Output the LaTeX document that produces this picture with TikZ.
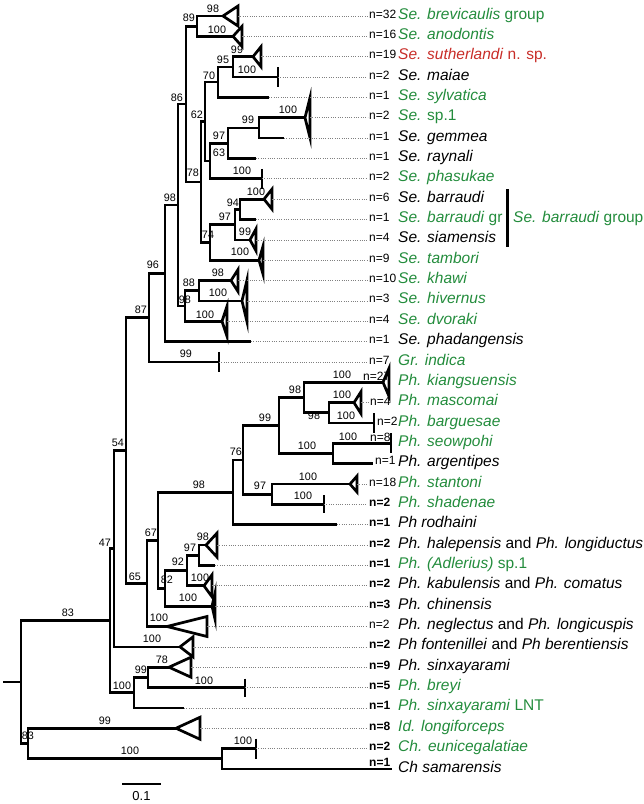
\documentclass[tikz,border=0pt]{standalone}
\usepackage{fontspec}
\setmainfont{Liberation Sans}
\definecolor{spgreen}{RGB}{35,140,60}
\definecolor{spred}{RGB}{200,45,40}
\tikzset{
  br/.style={line width=2.7pt},
  dots/.style={line width=0.7pt, gray, dash pattern=on 0.7pt off 1.6pt, shorten >=1.5pt},
  bs/.style={inner sep=0pt, font=\fontsize{10.8}{12}\selectfont},
  nlab/.style={inner sep=0pt, anchor=base west, font=\fontsize{12}{13}\selectfont},
  bnlab/.style={nlab, font=\fontsize{12}{13}\selectfont\bfseries},
  tax/.style={inner sep=0pt, anchor=base west, font=\fontsize{15.5}{17}\selectfont},
}

\begin{document}
\begin{tikzpicture}[x=1pt, y=-1pt]
\useasboundingbox (0,0) rectangle (644,804);

% internal nodes
\coordinate (stub) at (3,682.1);
\coordinate (root) at (21,682.1);
\coordinate (nA) at (110,620.7);
\coordinate (nB) at (114,548.7);
\coordinate (n54) at (126,450.5);
\coordinate (n87) at (149,317.6);
\coordinate (n96) at (165,273.3);
\coordinate (n98a) at (178,205);
\coordinate (n86) at (186,104.1);
\coordinate (n89) at (197,26.2);
\coordinate (n78) at (201,182);
\coordinate (n62) at (205,121.6);
\coordinate (n70) at (218,82.1);
\coordinate (n95) at (233,66.9);
\coordinate (nX) at (210,161);
\coordinate (n97) at (228,143.2);
\coordinate (n99) at (259,127.9);
\coordinate (n74) at (210,242.4);
\coordinate (n97b) at (235,224.6);
\coordinate (n94) at (240,209.3);
\coordinate (n98b) at (185,306);
\coordinate (n88) at (199,290.7);
\coordinate (n65) at (147,583.4);
\coordinate (n67) at (158,540.3);
\coordinate (n98) at (233,492.3);
\coordinate (n76) at (243,459.9);
\coordinate (n99ph) at (279,425.6);
\coordinate (n98ph) at (304,397.6);
\coordinate (n98ph2) at (329,412.8);
\coordinate (n100ph) at (333,453.5);
\coordinate (n97ph) at (272,494.2);
\coordinate (n82) at (165,588.3);
\coordinate (n92) at (187,570.5);
\coordinate (n97c) at (199,555.3);
\coordinate (n100s) at (134,692.6);
\coordinate (n99s) at (148,677.4);
\coordinate (n83b) at (28,743.5);
\coordinate (n100c) at (222,758.8);

% tips
\coordinate (brevicaulis) at (223,16);
\coordinate (anodontis) at (233,36.35);
\coordinate (sutherlandi) at (253,56.7);
\coordinate (maiae) at (278,77.05);
\coordinate (sylvatica) at (269,97.4);
\coordinate (sp1) at (305,117.75);
\coordinate (gemmea) at (284,138.1);
\coordinate (raynali) at (256,158.45);
\coordinate (phasukae) at (262,178.8);
\coordinate (barraudi) at (264,199.15);
\coordinate (barraudigr) at (256,219.5);
\coordinate (siamensis) at (250,239.85);
\coordinate (tambori) at (259,260.2);
\coordinate (khawi) at (231,280.55);
\coordinate (hivernus) at (242,300.9);
\coordinate (dvoraki) at (222,321.25);
\coordinate (phadangensis) at (251,341.6);
\coordinate (indica) at (219,361.95);
\coordinate (kiangsuensis) at (383,382.3);
\coordinate (mascomai) at (354,402.65);
\coordinate (barguesae) at (374,423);
\coordinate (seowpohi) at (391,443.35);
\coordinate (argentipes) at (373,463.7);
\coordinate (stantoni) at (350,484.05);
\coordinate (shadenae) at (324,504.4);
\coordinate (rodhaini) at (337,524.75);
\coordinate (halepensis) at (206,545.1);
\coordinate (adlerius) at (215,565.45);
\coordinate (kabulensis) at (204,585.8);
\coordinate (chinensis) at (212,606.15);
\coordinate (neglectus) at (167,626.5);
\coordinate (fontenillei) at (180,646.85);
\coordinate (sinxayarami) at (169,667.2);
\coordinate (breyi) at (245,687.55);
\coordinate (lnt) at (184,707.9);
\coordinate (longiforceps) at (176,728.25);
\coordinate (eunicegalatiae) at (256,748.6);
\coordinate (samarensis) at (392,768.95);

% backbone
\draw[br] (stub) -- (root);
\draw[br] (root) |- (nA);
\draw[br] (root) |- (n83b);
\draw[br] (nA) |- (nB);
\draw[br] (nA) |- (n100s);
\draw[br] (nB) |- (n54);
\draw[br] (nB) |- (fontenillei);
\draw[br] (n54) |- (n87);
\draw[br] (n54) |- (n65);
% Se. clade
\draw[br] (n87) |- (n96);
\draw[br] (n87) |- (indica);
\draw[br] (n96) |- (n98a);
\draw[br] (n96) |- (phadangensis);
\draw[br] (n98a) |- (n86);
\draw[br] (n98a) |- (n98b);
\draw[br] (n86) |- (n89);
\draw[br] (n86) |- (n78);
\draw[br] (n89) |- (brevicaulis);
\draw[br] (n89) |- (anodontis);
\draw[br] (n78) |- (n62);
\draw[br] (n78) |- (n74);
\draw[br] (n62) |- (n70);
\draw[br] (n62) |- (nX);
\draw[br] (n70) |- (n95);
\draw[br] (n70) |- (sylvatica);
\draw[br] (n95) |- (sutherlandi);
\draw[br] (n95) |- (maiae);
\draw[br] (nX) |- (n97);
\draw[br] (nX) |- (phasukae);
\draw[br] (n97) |- (n99);
\draw[br] (n97) |- (raynali);
\draw[br] (n99) |- (sp1);
\draw[br] (n99) |- (gemmea);
\draw[br] (n74) |- (n97b);
\draw[br] (n74) |- (tambori);
\draw[br] (n97b) |- (n94);
\draw[br] (n97b) |- (siamensis);
\draw[br] (n94) |- (barraudi);
\draw[br] (n94) |- (barraudigr);
\draw[br] (n98b) |- (n88);
\draw[br] (n98b) |- (dvoraki);
\draw[br] (n88) |- (khawi);
\draw[br] (n88) |- (hivernus);
% Ph. clade
\draw[br] (n65) |- (n67);
\draw[br] (n65) |- (neglectus);
\draw[br] (n67) |- (n98);
\draw[br] (n67) |- (n82);
\draw[br] (n98) |- (n76);
\draw[br] (n98) |- (rodhaini);
\draw[br] (n76) |- (n99ph);
\draw[br] (n76) |- (n97ph);
\draw[br] (n99ph) |- (n98ph);
\draw[br] (n99ph) |- (n100ph);
\draw[br] (n98ph) |- (kiangsuensis);
\draw[br] (n98ph) |- (n98ph2);
\draw[br] (n98ph2) |- (mascomai);
\draw[br] (n98ph2) |- (barguesae);
\draw[br] (n100ph) |- (seowpohi);
\draw[br] (n100ph) |- (argentipes);
\draw[br] (n97ph) |- (stantoni);
\draw[br] (n97ph) |- (shadenae);
\draw[br] (n82) |- (n92);
\draw[br] (n82) |- (chinensis);
\draw[br] (n92) |- (n97c);
\draw[br] (n92) |- (kabulensis);
\draw[br] (n97c) |- (halepensis);
\draw[br] (n97c) |- (adlerius);
\draw[br] (n100s) |- (n99s);
\draw[br] (n100s) |- (lnt);
\draw[br] (n99s) |- (sinxayarami);
\draw[br] (n99s) |- (breyi);
% outgroups
\draw[br] (n83b) |- (longiforceps);
\draw[br] (n83b) |- (n100c);
\draw[br] (n100c) |- (eunicegalatiae);
\draw[br] (n100c) |- (samarensis);

% collapsed clades
\draw[br] (brevicaulis) -- ++(15,-10) -- ++(0,20) -- cycle;
\draw[br] (anodontis) -- ++(9,-10) -- ++(0,20) -- cycle;
\draw[br] (sutherlandi) -- ++(8,-10) -- ++(0,20) -- cycle;
\draw[br] (sp1) -- ++(5,-20) -- ++(0,40) -- cycle;
\draw[br] (barraudi) -- ++(8,-10) -- ++(0,20) -- cycle;
\draw[br] (siamensis) -- ++(6,-11) -- ++(0,22) -- cycle;
\draw[br] (tambori) -- ++(4,-14) -- ++(0,28) -- cycle;
\draw[br] (khawi) -- ++(7,-11) -- ++(0,22) -- cycle;
\draw[br] (hivernus) -- ++(5,-21) -- ++(0,42) -- cycle;
\draw[br] (dvoraki) -- ++(5,-15) -- ++(0,30) -- cycle;
\draw[br] (kiangsuensis) -- ++(6,-14) -- ++(0,28) -- cycle;
\draw[br] (mascomai) -- ++(7,-11) -- ++(0,22) -- cycle;
\draw[br] (stantoni) -- ++(7,-8) -- ++(0,16) -- cycle;
\draw[br] (halepensis) -- ++(11,-12) -- ++(0,24) -- cycle;
\draw[br] (kabulensis) -- ++(8,-11) -- ++(0,22) -- cycle;
\draw[br] (chinensis) -- ++(3,-13) -- ++(0,26) -- cycle;
\draw[br] (neglectus) -- ++(40,-10) -- ++(0,20) -- cycle;
\draw[br] (fontenillei) -- ++(13,-10) -- ++(0,20) -- cycle;
\draw[br] (sinxayarami) -- ++(22,-10) -- ++(0,20) -- cycle;
\draw[br] (longiforceps) -- ++(24,-11) -- ++(0,22) -- cycle;
\draw[br] (maiae) ++(0,-10) -- ++(0,20);
\draw[br] (phasukae) ++(0,-10) -- ++(0,20);
\draw[br] (indica) ++(0,-10) -- ++(0,20);
\draw[br] (barguesae) ++(0,-10) -- ++(0,20);
\draw[br] (seowpohi) ++(0,-10) -- ++(0,20);
\draw[br] (shadenae) ++(0,-9) -- ++(0,18);
\draw[br] (breyi) ++(0,-9) -- ++(0,18);
\draw[br] (eunicegalatiae) ++(0,-10) -- ++(0,20);

% bootstrap values
\node[bs] (b-n89a) at (213,9) {98};
\node[bs] (b-n89b) at (217,30) {100};
\node[bs] (b-n89) at (189,18) {89};
\node[bs] (b-n95a) at (237,50) {99};
\node[bs] (b-n95b) at (247,70) {100};
\node[bs] (b-n95) at (223,60) {95};
\node[bs] (b-n70) at (209,76) {70};
\node[bs] (b-n62) at (197,115) {62};
\node[bs] (b-n99a) at (288,110) {100};
\node[bs] (b-n99) at (248,120) {99};
\node[bs] (b-n97) at (219,136) {97};
\node[bs] (b-n97b2) at (219,153) {63};
\node[bs] (b-phas) at (242,171) {100};
\node[bs] (b-n78) at (193,173) {78};
\node[bs] (b-n86) at (177,98) {86};
\node[bs] (b-barr) at (256,192) {100};
\node[bs] (b-n94) at (233,203) {94};
\node[bs] (b-n97b) at (225,217) {97};
\node[bs] (b-siam) at (245,232) {99};
\node[bs] (b-n74) at (208,235) {74};
\node[bs] (b-tamb) at (240,252) {100};
\node[bs] (b-khaw) at (218,273) {98};
\node[bs] (b-n88) at (189,283) {88};
\node[bs] (b-hive) at (218,293) {100};
\node[bs] (b-n98b) at (185,300) {98};
\node[bs] (b-dvor) at (205,315) {100};
\node[bs] (b-n98a) at (170,198) {98};
\node[bs] (b-n96) at (153,265) {96};
\node[bs] (b-n87) at (141,310) {87};
\node[bs] (b-indi) at (186,354) {99};
\node[bs] (b-n54) at (118,443) {54};
\node[bs] (b-kian) at (342,375) {100};
\node[bs] (b-n98ph) at (295,390) {98};
\node[bs] (b-masc) at (342,395) {100};
\node[bs] (b-n98ph2) at (314,416) {98};
\node[bs] (b-barg) at (346,416) {100};
\node[bs] (b-n99ph) at (265,418) {99};
\node[bs] (b-seow) at (348,437) {100};
\node[bs] (b-n100ph) at (307,446) {100};
\node[bs] (b-n76) at (236,452) {76};
\node[bs] (b-stan) at (308,477) {100};
\node[bs] (b-n97ph) at (260,486) {97};
\node[bs] (b-n98) at (199,485) {98};
\node[bs] (b-shad) at (303,496) {100};
\node[bs] (b-n67) at (151,533) {67};
\node[bs] (b-hale) at (203,537) {98};
\node[bs] (b-n97c) at (190,548) {97};
\node[bs] (b-n92) at (178,562) {92};
\node[bs] (b-n65) at (135,577) {65};
\node[bs] (b-n82) at (167,580) {82};
\node[bs] (b-kabu) at (200,578) {100};
\node[bs] (b-chin) at (188,598) {100};
\node[bs] (b-nA) at (68,613) {83};
\node[bs] (b-negl) at (159,618) {100};
\node[bs] (b-nB) at (105,543) {47};
\node[bs] (b-font) at (152,639) {100};
\node[bs] (b-sinx) at (162,660) {78};
\node[bs] (b-n99s) at (141,670) {99};
\node[bs] (b-brey) at (204,681) {100};
\node[bs] (b-n100s) at (122,686) {100};
\node[bs] (b-long) at (105,721) {99};
\node[bs] (b-n83b) at (28,736) {83};
\node[bs] (b-n100c) at (130,751) {100};
\node[bs] (b-euni) at (243,741) {100};

% sample sizes
\node[nlab] (brevicaulis-n) at (369,18) {n=32};
\node[nlab] (anodontis-n) at (369,38.4) {n=16};
\node[nlab] (sutherlandi-n) at (369,58.7) {n=19};
\node[nlab] (maiae-n) at (369,79) {n=2};
\node[nlab] (sylvatica-n) at (369,99.4) {n=1};
\node[nlab] (sp1-n) at (369,119.8) {n=2};
\node[nlab] (gemmea-n) at (369,140.1) {n=1};
\node[nlab] (raynali-n) at (369,160.5) {n=1};
\node[nlab] (phasukae-n) at (369,180.8) {n=2};
\node[nlab] (barraudi-n) at (369,201.2) {n=6};
\node[nlab] (barraudigr-n) at (369,221.5) {n=1};
\node[nlab] (siamensis-n) at (369,241.9) {n=4};
\node[nlab] (tambori-n) at (369,262.2) {n=9};
\node[nlab] (khawi-n) at (369,282.6) {n=10};
\node[nlab] (hivernus-n) at (369,302.9) {n=3};
\node[nlab] (dvoraki-n) at (369,323.3) {n=4};
\node[nlab] (phadangensis-n) at (369,343.6) {n=1};
\node[nlab] (indica-n) at (369,364) {n=7};
\node[nlab] (kiangsuensis-n) at (363,380) {n=27};
\node[nlab] (mascomai-n) at (370,405) {n=4};
\node[nlab] (barguesae-n) at (377,425) {n=2};
\node[nlab] (seowpohi-n) at (370,441) {n=8};
\node[nlab] (argentipes-n) at (375,464) {n=1};
\node[nlab] (stantoni-n) at (369,486.1) {n=18};
\node[bnlab] (shadenae-n) at (369,506.4) {n=2};
\node[bnlab] (rodhaini-n) at (369,526.8) {n=1};
\node[bnlab] (halepensis-n) at (369,547.1) {n=2};
\node[bnlab] (adlerius-n) at (369,567.5) {n=1};
\node[bnlab] (kabulensis-n) at (369,587.8) {n=2};
\node[bnlab] (chinensis-n) at (369,608.2) {n=3};
\node[nlab] (neglectus-n) at (369,628.5) {n=2};
\node[bnlab] (fontenillei-n) at (369,648.9) {n=2};
\node[bnlab] (sinxayarami-n) at (369,669.2) {n=9};
\node[bnlab] (breyi-n) at (369,689.6) {n=5};
\node[bnlab] (lnt-n) at (369,709.9) {n=1};
\node[bnlab] (longiforceps-n) at (369,730.3) {n=8};
\node[bnlab] (eunicegalatiae-n) at (369,750.6) {n=2};
\node[bnlab] (samarensis-n) at (369,766) {n=1};

% dotted leaders
\draw[dots] ([xshift=15pt]brevicaulis) -- (brevicaulis -| brevicaulis-n.west);
\draw[dots] ([xshift=9pt]anodontis) -- (anodontis -| anodontis-n.west);
\draw[dots] ([xshift=8pt]sutherlandi) -- (sutherlandi -| sutherlandi-n.west);
\draw[dots] (maiae) -- (maiae -| maiae-n.west);
\draw[dots] (sylvatica) -- (sylvatica -| sylvatica-n.west);
\draw[dots] ([xshift=5pt]sp1) -- (sp1 -| sp1-n.west);
\draw[dots] (gemmea) -- (gemmea -| gemmea-n.west);
\draw[dots] (raynali) -- (raynali -| raynali-n.west);
\draw[dots] (phasukae) -- (phasukae -| phasukae-n.west);
\draw[dots] ([xshift=8pt]barraudi) -- (barraudi -| barraudi-n.west);
\draw[dots] (barraudigr) -- (barraudigr -| barraudigr-n.west);
\draw[dots] ([xshift=6pt]siamensis) -- (siamensis -| siamensis-n.west);
\draw[dots] ([xshift=4pt]tambori) -- (tambori -| tambori-n.west);
\draw[dots] ([xshift=7pt]khawi) -- (khawi -| khawi-n.west);
\draw[dots] ([xshift=5pt]hivernus) -- (hivernus -| hivernus-n.west);
\draw[dots] ([xshift=5pt]dvoraki) -- (dvoraki -| dvoraki-n.west);
\draw[dots] (phadangensis) -- (phadangensis -| phadangensis-n.west);
\draw[dots] (indica) -- (indica -| indica-n.west);
\draw[dots] ([xshift=7pt]mascomai) -- (mascomai -| mascomai-n.west);
\draw[dots] ([xshift=7pt]stantoni) -- (stantoni -| stantoni-n.west);
\draw[dots] (shadenae) -- (shadenae -| shadenae-n.west);
\draw[dots] (rodhaini) -- (rodhaini -| rodhaini-n.west);
\draw[dots] ([xshift=11pt]halepensis) -- (halepensis -| halepensis-n.west);
\draw[dots] (adlerius) -- (adlerius -| adlerius-n.west);
\draw[dots] ([xshift=8pt]kabulensis) -- (kabulensis -| kabulensis-n.west);
\draw[dots] ([xshift=3pt]chinensis) -- (chinensis -| chinensis-n.west);
\draw[dots] ([xshift=40pt]neglectus) -- (neglectus -| neglectus-n.west);
\draw[dots] ([xshift=13pt]fontenillei) -- (fontenillei -| fontenillei-n.west);
\draw[dots] ([xshift=22pt]sinxayarami) -- (sinxayarami -| sinxayarami-n.west);
\draw[dots] (breyi) -- (breyi -| breyi-n.west);
\draw[dots] (lnt) -- (lnt -| lnt-n.west);
\draw[dots] ([xshift=24pt]longiforceps) -- (longiforceps -| longiforceps-n.west);
\draw[dots] (eunicegalatiae) -- (eunicegalatiae -| eunicegalatiae-n.west);

% taxa
\node[tax, spgreen] (brevicaulis-l) at (398,19) {\textit{Se. brevicaulis} group};
\node[tax, spgreen] (anodontis-l) at (398,39.4) {\textit{Se. anodontis}};
\node[tax, spred] (sutherlandi-l) at (398,59.7) {\textit{Se. sutherlandi} n. sp.};
\node[tax] (maiae-l) at (398,80) {\textit{Se. maiae}};
\node[tax, spgreen] (sylvatica-l) at (398,100.4) {\textit{Se. sylvatica}};
\node[tax, spgreen] (sp1-l) at (398,120.8) {\textit{Se.} sp.1};
\node[tax] (gemmea-l) at (398,141.1) {\textit{Se. gemmea}};
\node[tax] (raynali-l) at (398,161.5) {\textit{Se. raynali}};
\node[tax, spgreen] (phasukae-l) at (398,181.8) {\textit{Se. phasukae}};
\node[tax] (barraudi-l) at (398,202.2) {\textit{Se. barraudi}};
\node[tax, spgreen] (barraudigr-l) at (398,222.5) {\textit{Se. barraudi} gr};
\node[tax] (siamensis-l) at (398,242.9) {\textit{Se. siamensis}};
\node[tax, spgreen] (tambori-l) at (398,263.2) {\textit{Se. tambori}};
\node[tax, spgreen] (khawi-l) at (398,283.6) {\textit{Se. khawi}};
\node[tax, spgreen] (hivernus-l) at (398,303.9) {\textit{Se. hivernus}};
\node[tax, spgreen] (dvoraki-l) at (398,324.3) {\textit{Se. dvoraki}};
\node[tax] (phadangensis-l) at (398,344.6) {\textit{Se. phadangensis}};
\node[tax, spgreen] (indica-l) at (398,365) {\textit{Gr. indica}};
\node[tax, spgreen] (kiangsuensis-l) at (398,385.3) {\textit{Ph. kiangsuensis}};
\node[tax, spgreen] (mascomai-l) at (398,405.7) {\textit{Ph. mascomai}};
\node[tax, spgreen] (barguesae-l) at (398,426) {\textit{Ph. barguesae}};
\node[tax, spgreen] (seowpohi-l) at (398,446.4) {\textit{Ph. seowpohi}};
\node[tax] (argentipes-l) at (398,466.7) {\textit{Ph. argentipes}};
\node[tax, spgreen] (stantoni-l) at (398,487.1) {\textit{Ph. stantoni}};
\node[tax, spgreen] (shadenae-l) at (398,507.4) {\textit{Ph. shadenae}};
\node[tax] (rodhaini-l) at (398,527.8) {\textit{Ph rodhaini}};
\node[tax] (halepensis-l) at (398,548.1) {\textit{Ph. halepensis} and \textit{Ph. longiductus}};
\node[tax, spgreen] (adlerius-l) at (398,568.5) {\textit{Ph. (Adlerius)} sp.1};
\node[tax] (kabulensis-l) at (398,588.8) {\textit{Ph. kabulensis} and \textit{Ph. comatus}};
\node[tax] (chinensis-l) at (398,609.2) {\textit{Ph. chinensis}};
\node[tax] (neglectus-l) at (398,629.5) {\textit{Ph. neglectus} and \textit{Ph. longicuspis}};
\node[tax] (fontenillei-l) at (398,649.9) {\textit{Ph fontenillei} and \textit{Ph berentiensis}};
\node[tax] (sinxayarami-l) at (398,670.2) {\textit{Ph. sinxayarami}};
\node[tax, spgreen] (breyi-l) at (398,690.6) {\textit{Ph. breyi}};
\node[tax, spgreen] (lnt-l) at (398,710.9) {\textit{Ph. sinxayarami} LNT};
\node[tax, spgreen] (longiforceps-l) at (398,731.3) {\textit{Id. longiforceps}};
\node[tax, spgreen] (eunicegalatiae-l) at (398,751.6) {\textit{Ch. eunicegalatiae}};
\node[tax] (samarensis-l) at (398,772) {\textit{Ch samarensis}};

% barraudi group bracket
\coordinate (grp-top) at (507,189);
\coordinate (grp-bot) at (507,247);
\draw[line width=3pt] (grp-top) -- (grp-bot);
\node[tax, spgreen] (grp-l) at (513,222.5) {\textit{Se. barraudi} group};

% scale bar
\coordinate (sb-l) at (122,784);
\coordinate (sb-r) at (161,784);
\draw[br] (sb-l) -- (sb-r);
\node[inner sep=0pt, font=\fontsize{13}{14}\selectfont] (sb-t) at (141.5,796) {0.1};
\end{tikzpicture}
\end{document}
